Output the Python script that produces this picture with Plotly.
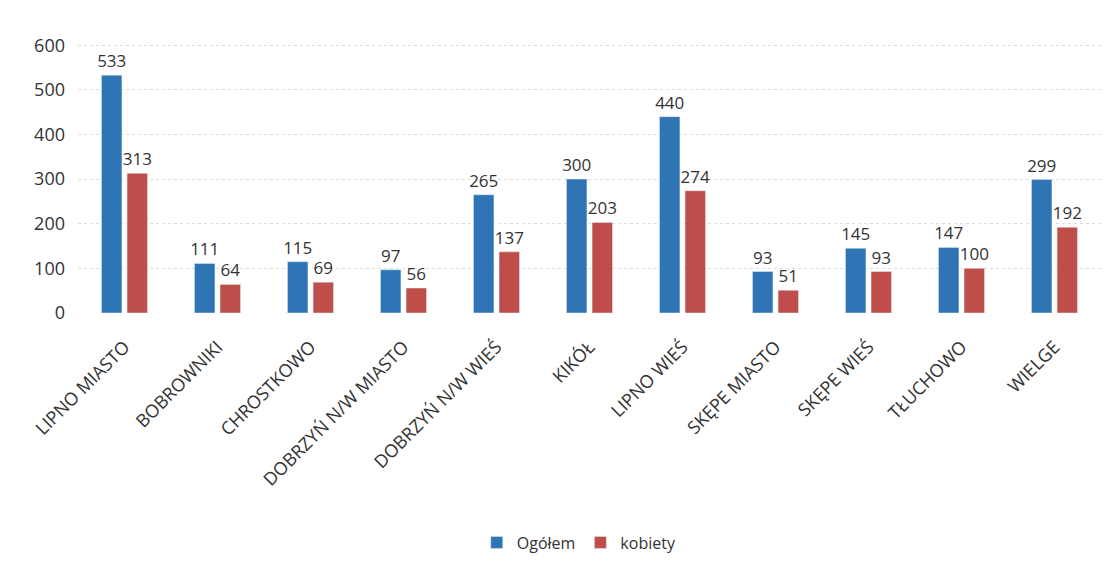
import plotly.graph_objects as go

categories = ["LIPNO MIASTO", "BOBROWNIKI", "CHROSTKOWO", "DOBRZYŃ N/W MIASTO",
              "DOBRZYŃ N/W WIEŚ", "KIKÓŁ", "LIPNO WIEŚ", "SKĘPE MIASTO",
              "SKĘPE WIEŚ", "TŁUCHOWO", "WIELGE"]
ogolem = [533, 111, 115, 97, 265, 300, 440, 93, 145, 147, 299]
kobiety = [313, 64, 69, 56, 137, 203, 274, 51, 93, 100, 192]
y_ticks = [0, 100, 200, 300, 400, 500, 600]

font_family = "Open Sans, Noto Sans, sans-serif"
txt_color = "#333333"

fig = go.Figure()
fig.add_trace(go.Bar(name="Ogółem", x=categories, y=ogolem, marker_color="#2f74b5",
                     text=ogolem, textposition="outside", cliponaxis=False,
                     constraintext="none",
                     textfont=dict(size=17, color=txt_color, family=font_family)))
fig.add_trace(go.Bar(name="kobiety", x=categories, y=kobiety, marker_color="#bf4d4a",
                     text=kobiety, textposition="outside", cliponaxis=False,
                     constraintext="none",
                     textfont=dict(size=17, color=txt_color, family=font_family)))

fig.update_layout(
    width=1117, height=568,
    margin=dict(l=70, r=24, t=35, b=263, autoexpand=False),
    paper_bgcolor="white", plot_bgcolor="white",
    barmode="group", bargap=0.45, bargroupgap=0.2,
    font=dict(family=font_family, size=16, color=txt_color),
    legend=dict(orientation="h", x=0.49, y=-0.85, xanchor="center", yanchor="middle",
                font=dict(size=16, color=txt_color), itemwidth=30),
    xaxis=dict(tickangle=-45, tickfont=dict(size=18, color=txt_color), showline=False,
               ticks="", ticklabelstandoff=19, automargin=False),
    yaxis=dict(range=[0, 605], tickvals=y_ticks, showgrid=True, gridcolor="#dcdcdc",
               griddash="dot", zeroline=False, tickfont=dict(size=18, color=txt_color),
               ticklabelstandoff=12, automargin=False),
)

fig.write_html("out.html")
